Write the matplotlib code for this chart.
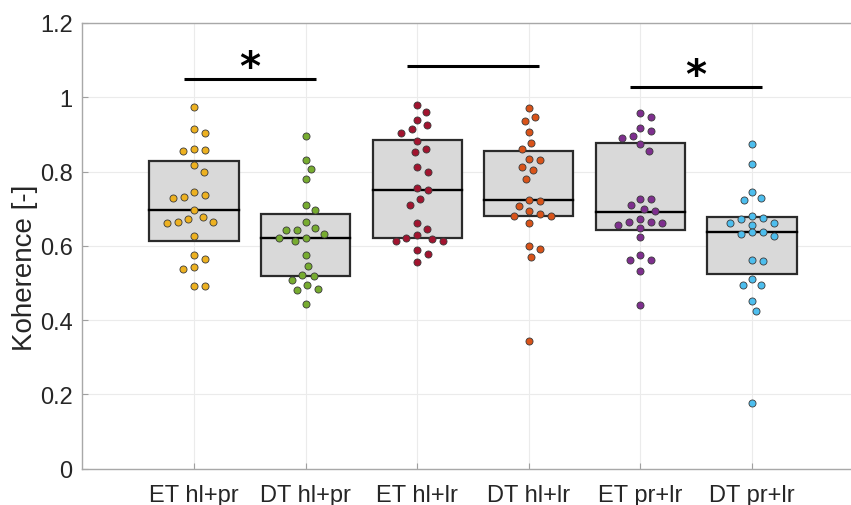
import numpy as np
import matplotlib
matplotlib.use("Agg")
import matplotlib.pyplot as plt
from matplotlib.patches import Rectangle

categories = ["ET hl+pr", "DT hl+pr", "ET hl+lr", "DT hl+lr", "ET pr+lr", "DT pr+lr"]

et_hl_pr = [0.973, 0.905, 0.915, 0.855, 0.860, 0.858, 0.817, 0.800, 0.738, 0.731,
            0.744, 0.728, 0.697, 0.661, 0.663, 0.677, 0.672, 0.663, 0.627, 0.575,
            0.564, 0.538, 0.543, 0.491, 0.491]
dt_hl_pr = [0.897, 0.832, 0.806, 0.779, 0.711, 0.696, 0.664, 0.649, 0.643, 0.644,
            0.631, 0.622, 0.621, 0.612, 0.575, 0.546, 0.520, 0.521, 0.509, 0.494,
            0.480, 0.483, 0.443]
et_hl_lr = [0.979, 0.960, 0.940, 0.925, 0.914, 0.903, 0.882, 0.852, 0.862, 0.800,
            0.812, 0.750, 0.756, 0.727, 0.710, 0.661, 0.645, 0.622, 0.628, 0.613,
            0.618, 0.613, 0.590, 0.578, 0.556]
dt_hl_lr = [0.971, 0.937, 0.947, 0.907, 0.878, 0.861, 0.832, 0.834, 0.811, 0.804,
            0.781, 0.724, 0.722, 0.707, 0.693, 0.680, 0.686, 0.680, 0.661, 0.600,
            0.592, 0.571, 0.343]
et_pr_lr = [0.957, 0.946, 0.908, 0.918, 0.890, 0.896, 0.874, 0.856, 0.725, 0.727,
            0.699, 0.709, 0.693, 0.649, 0.662, 0.663, 0.671, 0.663, 0.657, 0.623,
            0.575, 0.561, 0.563, 0.533, 0.440]
dt_pr_lr = [0.875, 0.820, 0.746, 0.724, 0.728, 0.674, 0.680, 0.672, 0.656, 0.662,
            0.661, 0.626, 0.636, 0.637, 0.631, 0.559, 0.561, 0.510, 0.494, 0.495,
            0.452, 0.424, 0.178]

series = [et_hl_pr, dt_hl_pr, et_hl_lr, dt_hl_lr, et_pr_lr, dt_pr_lr]

box_q1 = [0.613, 0.520, 0.621, 0.680, 0.642, 0.523]
box_median = [0.697, 0.622, 0.751, 0.724, 0.692, 0.637]
box_q3 = [0.828, 0.687, 0.886, 0.856, 0.878, 0.679]

colors = ["#EDB120", "#77AC30", "#A2142F", "#D95319", "#7E2F8E", "#4DBEEE"]

# significance brackets: (group a, group b, height, star)
sig_a = [1, 3, 5]
sig_b = [2, 4, 6]
sig_y = [1.050, 1.084, 1.028]
sig_star = ["*", "", "*"]

yticks = [0, 0.2, 0.4, 0.6, 0.8, 1.0, 1.2]
ytick_labels = ["0", "0.2", "0.4", "0.6", "0.8", "1", "1.2"]

W, H = 851, 506
fig = plt.figure(figsize=(W / 100, H / 100), dpi=100)
left_px, right_px, top_px, bot_px = 82.4, 863.6, 24.0, 469.7
ax = fig.add_axes([left_px / W, 1 - bot_px / H, (right_px - left_px) / W, (bot_px - top_px) / H])
ax.set_xlim(0, 7)
ax.set_ylim(0, 1.2)

xscale = (right_px - left_px) / 7.0
yscale = (bot_px - top_px) / 1.2


def swarm_offsets(vals, dmin=11.0):
    vals = np.asarray(vals, float)
    ypx = vals * yscale
    order = np.argsort(-vals)
    placed = []
    offs = np.zeros(len(vals))
    cand = [0.0]
    for k in range(1, 60):
        cand += [k * 0.5, -k * 0.5]
    for idx in order:
        for c in cand:
            ok = True
            for (px, py) in placed:
                if (px - c) ** 2 + (py - ypx[idx]) ** 2 < dmin ** 2:
                    ok = False
                    break
            if ok:
                offs[idx] = c
                placed.append((c, ypx[idx]))
                break
    return offs / xscale


ax.grid(True, color="#EBEBEB", linewidth=0.8)
ax.set_axisbelow(True)

bw = 0.8
for i, vals in enumerate(series):
    xc = i + 1
    rect = Rectangle((xc - bw / 2, box_q1[i]), bw, box_q3[i] - box_q1[i],
                     facecolor="#D9D9D9", edgecolor="#2b2b2b", linewidth=1.6, zorder=2)
    ax.add_patch(rect)
    ax.plot([xc - bw / 2, xc + bw / 2], [box_median[i]] * 2, color="black", linewidth=1.7, zorder=3)
    offs = swarm_offsets(vals)
    ax.scatter(xc + offs, vals, s=26, color=colors[i], edgecolors="#3a3a3a",
               linewidths=0.6, zorder=4)

for a, b, yv, st in zip(sig_a, sig_b, sig_y, sig_star):
    ax.plot([a - 0.09, b + 0.09], [yv, yv], color="black", linewidth=2.2,
            solid_capstyle="butt", zorder=5, clip_on=False)
    if st:
        ax.text((a + b) / 2, yv - 0.024, st, ha="center", va="bottom",
                fontsize=29, fontweight="bold", color="black", family="DejaVu Sans")

ax.set_xticks(range(1, 7))
ax.set_xticklabels(categories)
ax.set_yticks(yticks)
ax.set_yticklabels(ytick_labels)
for lab in ax.get_xticklabels() + ax.get_yticklabels():
    lab.set_fontfamily("Liberation Sans")
    lab.set_fontsize(17)
    lab.set_color("#262626")
ax.tick_params(axis="both", direction="in", length=4, color="#A0A0A0", width=0.8)
ax.tick_params(axis="x", pad=11)
ax.tick_params(axis="y", pad=7)
for s in ax.spines.values():
    s.set_color("#A8A8A8")
    s.set_linewidth(1.0)

fig.text(25 / W, 1 - 268 / H, "Koherence [-]", rotation=90, ha="center", va="center",
         fontsize=20, family="Liberation Sans", color="#262626")

fig.savefig("out.png", dpi=100)
